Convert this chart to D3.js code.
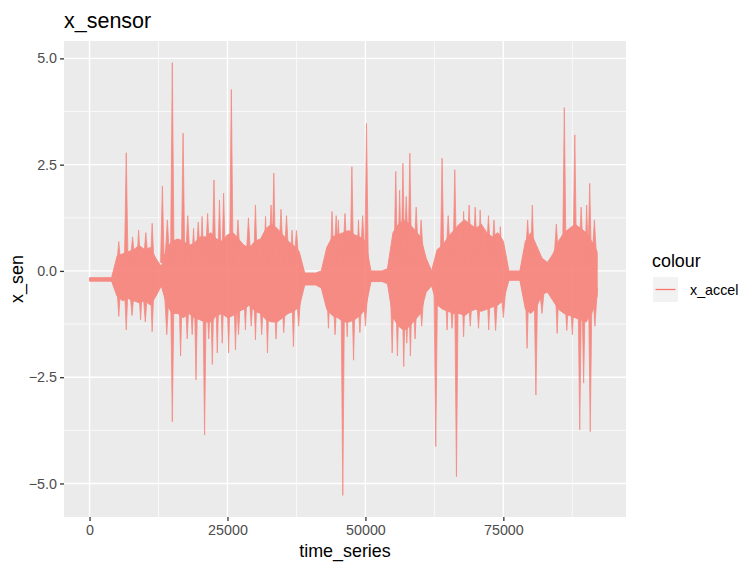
<!DOCTYPE html>
<meta charset="utf-8">
<html>
<head>
<script src="https://d3js.org/d3.v7.min.js"></script>
<style>
  body { margin: 0; background: #fff; }
  text { font-family: "Liberation Sans", Arial, sans-serif; }
</style>
</head>
<body>
<script>
// envelope of x_accel, one value per 1000 samples (dense part of the trace)
var binStep = 1000;
var lastSample = 92600;
var bodyHi = [-0.16,-0.16,-0.16,-0.16,-0.16, 0.35,0.4,0.45,0.5,0.6,
  0.5,0.55,0.3,0.1,0.55, 0.7,0.75,0.7,0.6,0.65, 0.8,0.8,0.9,0.75,0.7,
  0.85,0.9,0.75,0.6,0.55, 0.7,0.75,1.0,1.1,1.0, 0.85,0.7,0.6,0.45,-0.05,
  -0.05,-0.05,0.0,0.55,0.8, 0.85,0.9,0.95,0.85,0.8, 0.7,0.0,0.0,0.0,0.05,
  0.9,1.1,1.2,1.1,0.95, 0.8,0.3,0.0,0.5,0.6, 0.8,0.95,1.1,1.2,1.1,
  1.0,1.1,0.9,0.8,0.9, 0.7,0.0,0.0,0.0,0.7, 0.9,0.6,0.3,0.2,0.4,
  0.7,0.9,1.0,1.1,1.0, 0.9,0.7,0.45];
var bodyLo = [-0.24,-0.24,-0.24,-0.24,-0.24, -0.6,-0.7,-0.65,-0.7,-0.75,
  -0.7,-0.8,-0.6,-0.35,-0.8, -1.0,-1.0,-1.1,-1.0,-1.1, -1.15,-1.2,-1.2,-1.05,-1.0,
  -1.1,-1.05,-0.95,-0.9,-0.8, -0.95,-1.0,-1.15,-1.2,-1.2, -1.1,-1.0,-0.95,-0.85,-0.33,
  -0.33,-0.33,-0.4,-0.9,-1.05, -1.1,-1.2,-1.2,-1.15,-1.05, -0.9,-0.25,-0.25,-0.25,-0.3,
  -1.1,-1.3,-1.4,-1.3,-1.15, -1.0,-0.5,-0.35,-0.8,-0.9, -0.95,-1.0,-1.0,-1.05,-0.95,
  -0.9,-0.95,-0.9,-0.85,-0.8, -0.7,-0.22,-0.22,-0.22,-0.9, -1.0,-0.85,-0.55,-0.5,-0.7,
  -0.9,-1.0,-1.05,-1.1,-1.15, -1.2,-1.0,-0.6];

// single-sample peaks sticking out of the envelope
var peakTime = [5300,6650,8900,11350,13200,15000,16950,18850,20400,22550,23550,24300,25700,
  30070,31900,33400,36700,43950,45100,47550,48750,50200,55500,56200,56800,58050,
  63900,66200,67800,70800,74450,80250,86050,87950,90100,90650,
  5300,6650,9250,11350,15000,16500,19300,20850,22250,23150,24050,25200,26450,28250,
  30070,32250,36950,43300,45900,46700,47850,54850,55800,56950,58150,62750,64800,
  66500,67800,72350,79300,80900,84750,88850,89550,90750];
var peakValue = [0.69,2.78,0.96,1.12,2.0,4.9,3.24,1.0,1.28,2.14,1.67,1.83,4.27,
  1.55,1.28,2.3,0.96,1.4,1.2,2.45,1.2,3.47,2.34,1.9,2.53,2.77,
  2.65,2.38,1.4,1.43,1.04,1.55,3.84,3.2,1.55,2.06,
  -1.07,-1.39,-1.15,-1.43,-3.55,-2.0,-2.56,-3.86,-2.2,-1.93,-1.7,-1.93,-1.86,-1.39,
  -1.62,-1.93,-1.78,-1.35,-5.28,-1.55,-2.1,-1.93,-2.0,-2.25,-2.0,-4.13,-1.39,
  -4.84,-1.55,-1.39,-1.82,-2.92,-1.47,-3.74,-2.64,-3.78];

// smaller ripples at the edge of the envelope
var rippleTime = [7800,10200,14100,17800,19700,21400,26900,28800,32900,34700,35700,37500,
  44700,46300,49500,57400,59200,60100,65000,68800,69900,72300,73300,79400,84600,89100,91500,
  7700,10100,14000,17700,18600,21600,27000,29300,31200,33800,35200,37900,
  44500,49000,50000,57500,59000,60200,65700,69000,70500,73600,75000,82000,86500,87500,91600];
var rippleValue = [0.8,0.9,1.2,1.3,1.15,1.35,1.2,1.25,1.55,1.45,1.3,0.95,
  1.3,1.35,1.3,1.75,1.5,1.2,1.3,1.55,1.5,1.3,1.2,1.2,1.1,1.5,1.2,
  -1.05,-1.2,-1.5,-1.6,-1.5,-1.6,-1.5,-1.3,-1.5,-1.6,-1.45,-1.3,
  -1.5,-1.45,-1.3,-1.7,-1.6,-1.3,-1.35,-1.3,-1.35,-1.4,-1.1,-1.0,-1.4,-1.5,-1.3];

var xTicks = [0, 25000, 50000, 75000];
var yTicks = [-5, -2.5, 0, 2.5, 5];

var W = 748, H = 563;
var panel = {left: 64, right: 626, top: 41, bottom: 517};
var lineColour = "#F8766D";

var svg = d3.select("body").append("svg")
    .attr("width", W).attr("height", H);

// ggplot style 5% expansion of the data range
var tExt = [0, lastSample];
var vExt = [d3.min(peakValue.concat(bodyLo)), d3.max(peakValue.concat(bodyHi))];
var tPad = (tExt[1] - tExt[0]) * 0.05, vPad = (vExt[1] - vExt[0]) * 0.05;

var x = d3.scaleLinear().domain([tExt[0] - tPad, tExt[1] + tPad]).range([panel.left, panel.right]);
var y = d3.scaleLinear().domain([vExt[0] - vPad, vExt[1] + vPad]).range([panel.bottom, panel.top]);

svg.append("rect")
    .attr("x", panel.left).attr("y", panel.top)
    .attr("width", panel.right - panel.left).attr("height", panel.bottom - panel.top)
    .attr("fill", "#EBEBEB");

// minor grid
var xMinor = xTicks.map(function(d) { return d + 12500; });
var yMinor = yTicks.slice(0, -1).map(function(d) { return d + 1.25; });
svg.append("g").selectAll("line").data(xMinor).enter().append("line")
    .attr("x1", x).attr("x2", x).attr("y1", panel.top).attr("y2", panel.bottom)
    .attr("stroke", "#fff").attr("stroke-width", 0.7);
svg.append("g").selectAll("line").data(yMinor).enter().append("line")
    .attr("y1", y).attr("y2", y).attr("x1", panel.left).attr("x2", panel.right)
    .attr("stroke", "#fff").attr("stroke-width", 0.7);
// major grid
svg.append("g").selectAll("line").data(xTicks).enter().append("line")
    .attr("x1", x).attr("x2", x).attr("y1", panel.top).attr("y2", panel.bottom)
    .attr("stroke", "#fff").attr("stroke-width", 1.4);
svg.append("g").selectAll("line").data(yTicks).enter().append("line")
    .attr("y1", y).attr("y2", y).attr("x1", panel.left).attr("x2", panel.right)
    .attr("stroke", "#fff").attr("stroke-width", 1.4);

var trace = svg.append("g").attr("opacity", 0.82);

// trace body
var body = bodyHi.map(function(d, i) {
    return {t: Math.min(i * binStep, lastSample), hi: d, lo: bodyLo[i]};
});
var area = d3.area()
    .x(function(d) { return x(d.t); })
    .y0(function(d) { return y(d.lo); })
    .y1(function(d) { return y(d.hi); });
trace.append("path").datum(body)
    .attr("d", area)
    .attr("fill", lineColour)
    .attr("stroke", lineColour).attr("stroke-width", 1);

// peaks as thin triangles
var peakLine = d3.line().x(function(d) { return x(d[0]); }).y(function(d) { return y(d[1]); });
function spikes(times, values, halfWidth) {
    trace.append("g").selectAll("path").data(times).enter().append("path")
        .attr("d", function(t, i) {
            var v = values[i], base = v > 0 ? 0.2 : -0.4;
            return peakLine([[t - halfWidth, base], [t, v], [t + halfWidth, base]]) + "Z";
        })
        .attr("fill", lineColour)
        .attr("stroke", lineColour).attr("stroke-width", 0.8)
        .attr("stroke-linejoin", "round");
}
spikes(rippleTime, rippleValue, 450);
spikes(peakTime, peakValue, 320);

// axes
var xAxis = svg.append("g")
    .attr("transform", "translate(0," + panel.bottom + ")")
    .call(d3.axisBottom(x).tickValues(xTicks).tickFormat(d3.format("d")).tickSize(4).tickPadding(4));
var yAxis = svg.append("g")
    .attr("transform", "translate(" + panel.left + ",0)")
    .call(d3.axisLeft(y).tickValues(yTicks).tickFormat(d3.format(".1f")).tickSize(4).tickPadding(3));
[xAxis, yAxis].forEach(function(a) {
    a.select(".domain").remove();
    a.selectAll(".tick line").attr("stroke", "#333333").attr("stroke-width", 1.3);
    a.selectAll(".tick text").attr("fill", "#4D4D4D")
        .style("font-size", "14.3px").style("font-family", "'Liberation Sans', Arial, sans-serif");
});

// titles
svg.append("text").attr("x", panel.left).attr("y", 28)
    .style("font-size", "21.5px").attr("fill", "#000").text("x_sensor");
svg.append("text").attr("x", (panel.left + panel.right) / 2).attr("y", 557)
    .attr("text-anchor", "middle").style("font-size", "17.9px").attr("fill", "#000").text("time_series");
svg.append("text")
    .attr("transform", "translate(23," + (panel.top + panel.bottom) / 2 + ") rotate(-90)")
    .attr("text-anchor", "middle").style("font-size", "17.9px").attr("fill", "#000").text("x_sen");

// legend
var lg = svg.append("g").attr("transform", "translate(652,0)");
lg.append("text").attr("x", 0).attr("y", 267).style("font-size", "17.9px").text("colour");
lg.append("rect").attr("x", 1).attr("y", 277).attr("width", 25).attr("height", 25).attr("fill", "#F2F2F2");
lg.append("line").attr("x1", 3.5).attr("x2", 23.5).attr("y1", 289.5).attr("y2", 289.5)
    .attr("stroke", lineColour).attr("stroke-width", 1.3);
lg.append("text").attr("x", 38).attr("y", 289.5).attr("dy", "0.35em")
    .style("font-size", "14.3px").attr("fill", "#000").text("x_accel");
</script>
</body>
</html>
